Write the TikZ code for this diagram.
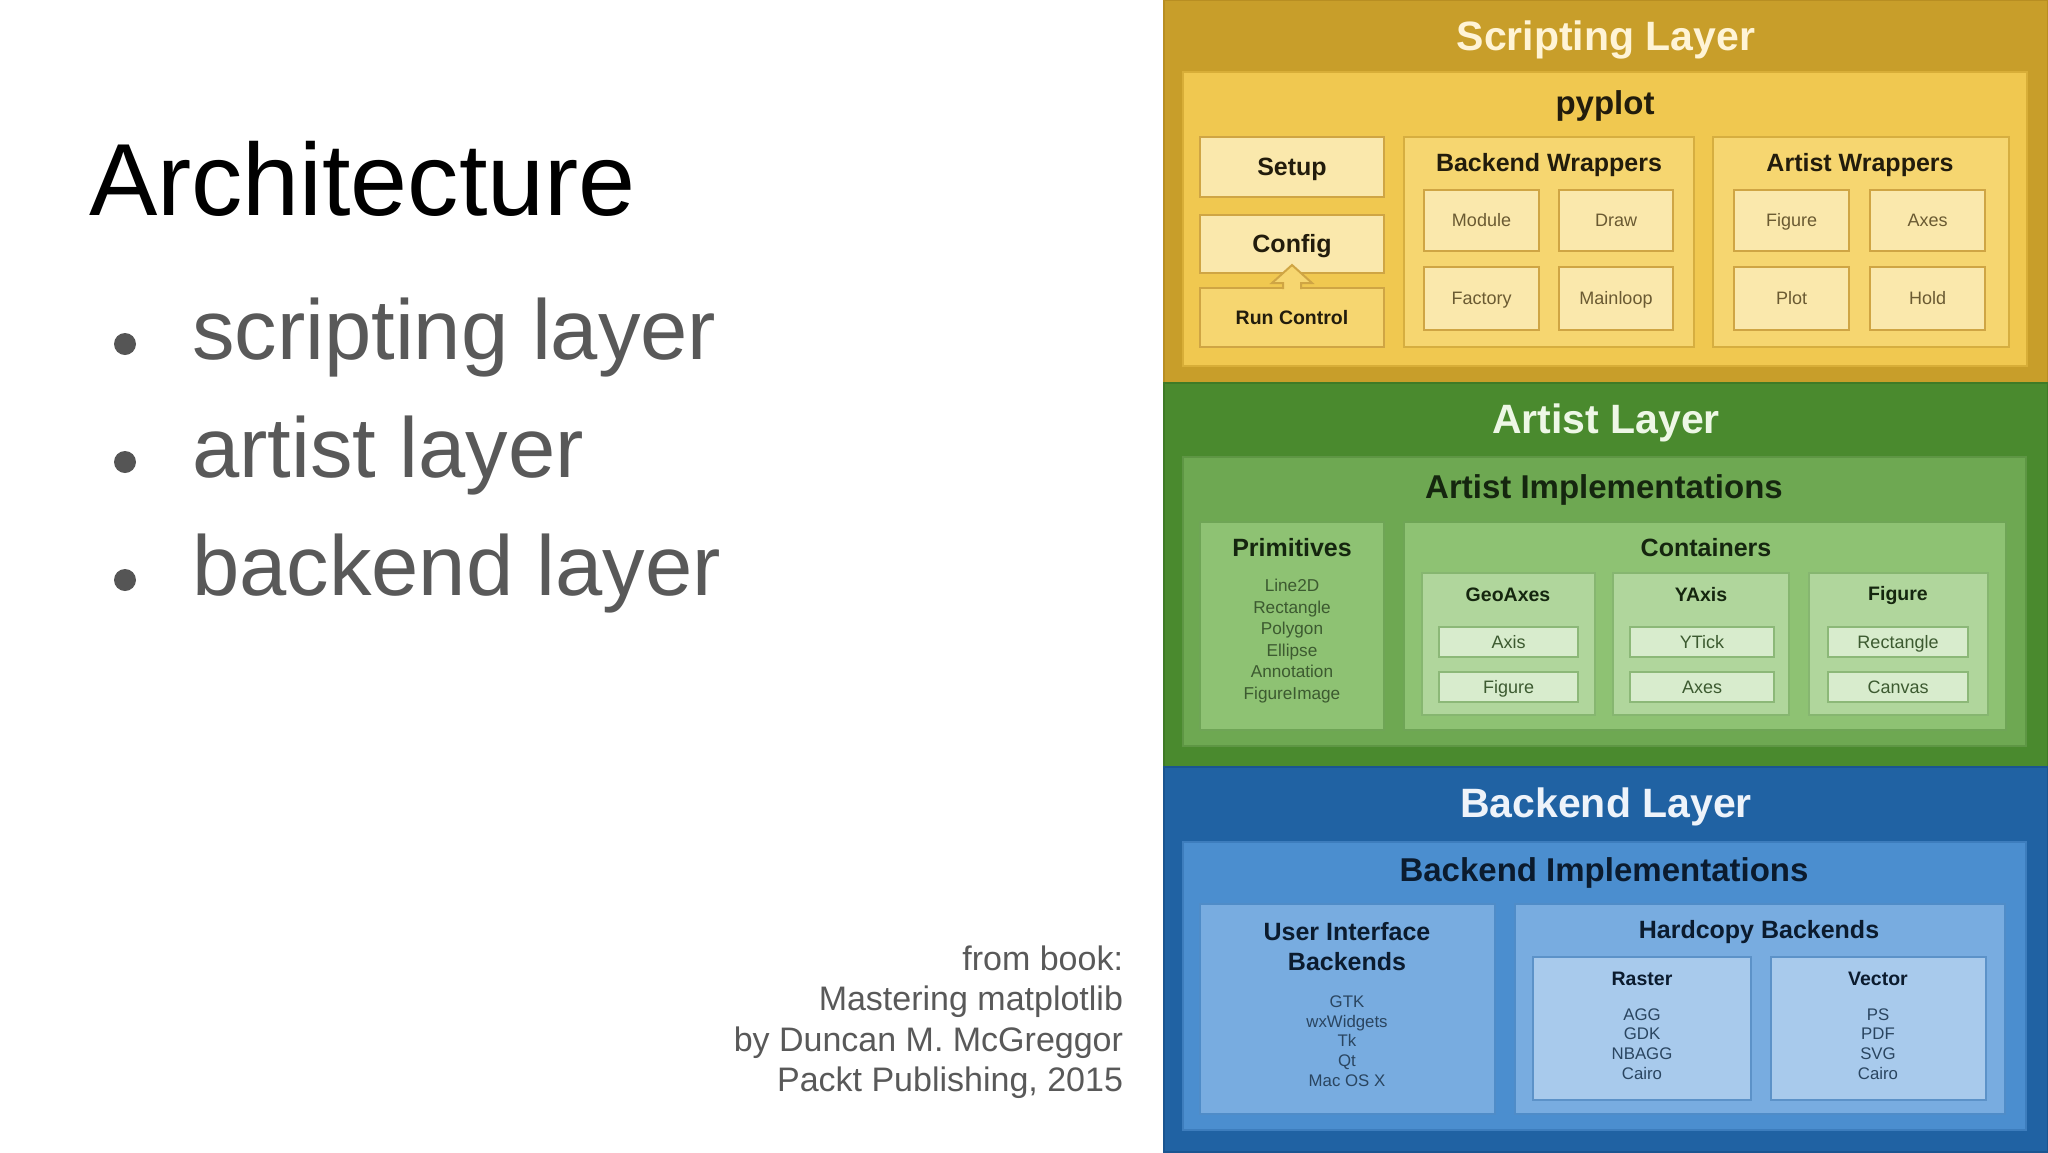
\documentclass[tikz,border=0pt]{standalone}
\usepackage{fontspec}
\setmainfont{Liberation Sans}
\definecolor{scrband}{HTML}{C89E2A}
\definecolor{scrbandD}{HTML}{B88E22}
\definecolor{scrA}{HTML}{F0C850}
\definecolor{scrAD}{HTML}{D8AE38}
\definecolor{scrB}{HTML}{F6D670}
\definecolor{scrBD}{HTML}{D6AE40}
\definecolor{scrC}{HTML}{FAE8AC}
\definecolor{scrCD}{HTML}{CFA544}
\definecolor{scrTxt}{HTML}{FFF4D6}
\definecolor{scrHd}{HTML}{221C0C}
\definecolor{scrIt}{HTML}{6A5A32}
\definecolor{artband}{HTML}{4A8A2E}
\definecolor{artbandD}{HTML}{3F7A26}
\definecolor{artA}{HTML}{6EA852}
\definecolor{artAD}{HTML}{5E9644}
\definecolor{artB}{HTML}{8EC273}
\definecolor{artBD}{HTML}{6FA556}
\definecolor{artC}{HTML}{B0D69C}
\definecolor{artCD}{HTML}{86B670}
\definecolor{artL}{HTML}{D8ECCD}
\definecolor{artLD}{HTML}{8CB878}
\definecolor{artTxt}{HTML}{EEF7E6}
\definecolor{artHd}{HTML}{15260F}
\definecolor{artIt}{HTML}{3C5A30}
\definecolor{bckband}{HTML}{2062A3}
\definecolor{bckbandD}{HTML}{1A5590}
\definecolor{bckA}{HTML}{4B8ECF}
\definecolor{bckAD}{HTML}{3D7DBD}
\definecolor{bckB}{HTML}{78ACE0}
\definecolor{bckBD}{HTML}{4F8CC8}
\definecolor{bckC}{HTML}{A8CAEC}
\definecolor{bckCD}{HTML}{5C92C8}
\definecolor{bckTxt}{HTML}{EEF3FA}
\definecolor{bckHd}{HTML}{0B1B2E}
\definecolor{bckIt}{HTML}{2A4560}
\definecolor{slidegray}{HTML}{595959}
\definecolor{bulletgray}{HTML}{555555}
\newcommand{\rbox}[7]{%
  \node[#1, minimum width={#5-#3}, minimum height={#6-#4}] (#2) at ({(#3+#5)/2},{(#4+#6)/2}) {#7};}
\newcommand{\ctr}[1]{\smash{\raisebox{-0.358em}{#1}}}
\begin{document}
\begin{tikzpicture}[x=1pt,y=-1pt,
  every node/.style={inner sep=0pt, outer sep=0pt},
  band/.style={line width=1.5pt},
  lvA/.style={line width=2.5pt},
  lvB/.style={line width=2.5pt},
  lvC/.style={line width=2.5pt},
  ttl/.style={font=\bfseries\fontsize{41}{45}\selectfont},
  hd/.style={font=\bfseries\fontsize{33}{38}\selectfont},
  sb/.style={font=\bfseries\fontsize{25}{30}\selectfont},
  ss/.style={font=\bfseries\fontsize{19.5}{23}\selectfont},
  itm/.style={font=\fontsize{18}{21.7}\selectfont, align=center},
  lst/.style={font=\fontsize{17.2}{21.6}\selectfont, align=center},
  lstb/.style={font=\fontsize{16.8}{19.8}\selectfont, align=center},
  src/.style={font=\fontsize{34}{40}\selectfont, text=slidegray, anchor=base east},
  bul/.style={font=\fontsize{85}{100}\selectfont, text=slidegray, anchor=base west}
]
\useasboundingbox (0,0) rectangle (2048,1152);
\fill[white] (0,0) rectangle (2048,1152);

% ---------- left slide text ----------
\node[font=\fontsize{102.5}{120}\selectfont, anchor=base west, text=black] (title) at (89,215) {Architecture};
\fill[bulletgray] (125,344) circle (11pt);
\fill[bulletgray] (125,462) circle (11pt);
\fill[bulletgray] (125,580) circle (11pt);
\node[bul] (b1) at (192,359) {scripting layer};
\node[bul] (b2) at (192,477) {artist layer};
\node[bul] (b3) at (192,595) {backend layer};
\node[src] (s1) at (1123,970) {from book:};
\node[src] (s2) at (1123,1010.5) {Mastering matplotlib};
\node[src] (s3) at (1123,1051) {by Duncan M. McGreggor};
\node[src] (s4) at (1123,1091.5) {Packt Publishing, 2015};

% ---------- bands ----------
\rbox{band, fill=scrband, draw=scrbandD}{scr}{1164}{0}{2048}{383}{}
\rbox{band, fill=artband, draw=artbandD}{art}{1164}{383}{2048}{767}{}
\rbox{band, fill=bckband, draw=bckbandD}{bck}{1164}{767}{2048}{1152}{}

% ---------- scripting layer ----------
\node[ttl, text=scrTxt] (tscr) at (1606,40) {Scripting Layer};
\rbox{lvA, fill=scrA, draw=scrAD}{pyplot}{1183}{72}{2027}{366}{}
\node[hd, text=scrHd] (tpy) at (1605,106) {pyplot};
\rbox{lvC, fill=scrC, draw=scrCD, sb, text=scrHd}{setup}{1200}{137}{1384}{197}{\ctr{Setup}}
\rbox{lvC, fill=scrC, draw=scrCD, sb, text=scrHd}{config}{1200}{215}{1384}{273}{\ctr{Config}}
\rbox{lvC, fill=scrB, draw=scrCD, ss, text=scrHd}{runctl}{1200}{288}{1384}{347}{\ctr{Run Control}}
\draw[line width=2pt, draw=scrCD, fill=scrB, line join=miter, shift={(runctl.north)}]
  (-9,1) -- (-9,-5) -- (-20,-5) -- (0,-23) -- (20,-5) -- (9,-5) -- (9,1);
\rbox{lvB, fill=scrB, draw=scrBD}{bwrap}{1404}{137}{1694}{347}{}
\node[sb, text=scrHd] (tbw) at (1549,165) {Backend Wrappers};
\rbox{lvC, fill=scrC, draw=scrCD, itm, text=scrIt}{module}{1424}{190}{1539}{251}{\ctr{Module}}
\rbox{lvC, fill=scrC, draw=scrCD, itm, text=scrIt}{drawb}{1559}{190}{1673}{251}{\ctr{Draw}}
\rbox{lvC, fill=scrC, draw=scrCD, itm, text=scrIt}{factory}{1424}{267}{1539}{330}{\ctr{Factory}}
\rbox{lvC, fill=scrC, draw=scrCD, itm, text=scrIt}{mainloop}{1559}{267}{1673}{330}{\ctr{Mainloop}}
\rbox{lvB, fill=scrB, draw=scrBD}{awrap}{1713}{137}{2009}{347}{}
\node[sb, text=scrHd] (taw) at (1860,165) {Artist Wrappers};
\rbox{lvC, fill=scrC, draw=scrCD, itm, text=scrIt}{sfigure}{1734}{190}{1849}{251}{\ctr{Figure}}
\rbox{lvC, fill=scrC, draw=scrCD, itm, text=scrIt}{saxes}{1870}{190}{1985}{251}{\ctr{Axes}}
\rbox{lvC, fill=scrC, draw=scrCD, itm, text=scrIt}{splot}{1734}{267}{1849}{330}{\ctr{Plot}}
\rbox{lvC, fill=scrC, draw=scrCD, itm, text=scrIt}{shold}{1870}{267}{1985}{330}{\ctr{Hold}}

% ---------- artist layer ----------
\node[ttl, text=artTxt] (tart) at (1606,423) {Artist Layer};
\rbox{lvA, fill=artA, draw=artAD}{aimpl}{1183}{457}{2026}{746}{}
\node[hd, text=artHd] (tai) at (1604,490) {Artist Implementations};
\rbox{lvB, fill=artB, draw=artBD}{prim}{1200}{522}{1384}{730}{}
\node[sb, text=artHd] (tprim) at (1292,548) {Primitives};
\node[lst, text=artIt] (lprim) at (1292,641) {Line2D\\Rectangle\\Polygon\\Ellipse\\Annotation\\FigureImage};
\rbox{lvB, fill=artB, draw=artBD}{cont}{1404}{522}{2006}{730}{}
\node[sb, text=artHd] (tcont) at (1706,548) {Containers};
\rbox{lvC, fill=artC, draw=artCD}{geo}{1422}{573}{1595}{715}{}
\node[ss, text=artHd] (tgeo) at (1508,595) {GeoAxes};
\rbox{lvC, fill=artC, draw=artCD}{yax}{1613}{573}{1789}{715}{}
\node[ss, text=artHd] (tyax) at (1701,595) {YAxis};
\rbox{lvC, fill=artC, draw=artCD}{figc}{1809}{573}{1988}{715}{}
\node[ss, text=artHd] (tfigc) at (1898,595) {Figure};
\rbox{lvC, fill=artL, draw=artLD, itm, text=artIt}{axisb}{1439}{627}{1578}{657}{\ctr{Axis}}
\rbox{lvC, fill=artL, draw=artLD, itm, text=artIt}{afigb}{1439}{672}{1578}{702}{\ctr{Figure}}
\rbox{lvC, fill=artL, draw=artLD, itm, text=artIt}{ytick}{1630}{627}{1774}{657}{\ctr{YTick}}
\rbox{lvC, fill=artL, draw=artLD, itm, text=artIt}{aaxes}{1630}{672}{1774}{702}{\ctr{Axes}}
\rbox{lvC, fill=artL, draw=artLD, itm, text=artIt}{rectb}{1828}{627}{1968}{657}{\ctr{Rectangle}}
\rbox{lvC, fill=artL, draw=artLD, itm, text=artIt}{canvas}{1828}{672}{1968}{702}{\ctr{Canvas}}

% ---------- backend layer ----------
\node[ttl, text=bckTxt] (tbck) at (1606,807) {Backend Layer};
\rbox{lvA, fill=bckA, draw=bckAD}{bimpl}{1183}{842}{2026}{1130}{}
\node[hd, text=bckHd] (tbi) at (1604,873) {Backend Implementations};
\rbox{lvB, fill=bckB, draw=bckBD}{ui}{1200}{904}{1495}{1114}{}
\node[sb, text=bckHd, align=center, font=\bfseries\fontsize{25}{30}\selectfont] (tui) at (1347,947) {User Interface\\Backends};
\node[lstb, text=bckIt] (lui) at (1347,1041) {GTK\\wxWidgets\\Tk\\Qt\\Mac OS X};
\rbox{lvB, fill=bckB, draw=bckBD}{hc}{1515}{904}{2005}{1114}{}
\node[sb, text=bckHd] (thc) at (1759,932) {Hardcopy Backends};
\rbox{lvC, fill=bckC, draw=bckCD}{raster}{1533}{957}{1751}{1100}{}
\node[ss, text=bckHd] (tras) at (1642,979) {Raster};
\node[lstb, text=bckIt] (lras) at (1642,1044) {AGG\\GDK\\NBAGG\\Cairo};
\rbox{lvC, fill=bckC, draw=bckCD}{vector}{1771}{957}{1986}{1100}{}
\node[ss, text=bckHd] (tvec) at (1878,979) {Vector};
\node[lstb, text=bckIt] (lvec) at (1878,1044) {PS\\PDF\\SVG\\Cairo};
\end{tikzpicture}
\end{document}
